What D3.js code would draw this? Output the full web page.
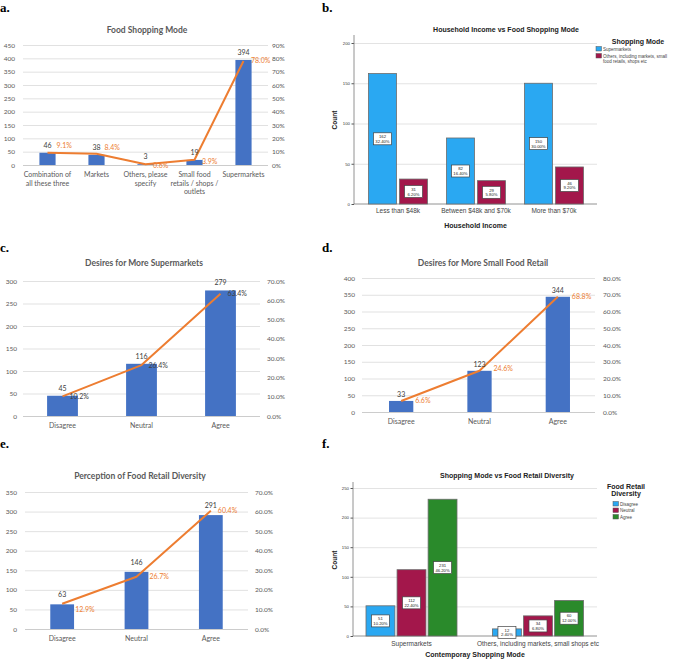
<!DOCTYPE html>
<html><head><meta charset="utf-8">
<script src="https://cdn.jsdelivr.net/npm/d3@7"></script>
<style>body{margin:0;background:#fff}svg{display:block}</style>
</head><body>
<svg id="chart" width="685" height="659"></svg>
<script>
// ---------- DATA ----------
// a. Food Shopping Mode
const aCategories = ["Combination of\nall these three", "Markets", "Others, please\nspecify", "Small food\nretails / shops /\noutlets", "Supermarkets"];
const aCounts = [46, 38, 3, 19, 394];
const aPercents = [9.1, 8.4, 0.6, 3.9, 78.0];
const aLeftTicks = [0, 50, 100, 150, 200, 250, 300, 350, 400, 450];
const aRightTicks = [0, 10, 20, 30, 40, 50, 60, 70, 80, 90];

// b. Household Income vs Food Shopping Mode
const bIncome = ["Less than $48k", "Between $48k and $70k", "More than $70k"];
const bModes = ["Supermarkets", "Others, including markets, small food retails, shops etc"];
const bSupermarkets = [162, 82, 150];
const bOthers = [31, 29, 46];
const bSupermarketsPct = ["32.40%", "16.40%", "30.00%"];
const bOthersPct = ["6.20%", "5.80%", "9.20%"];
const bTicks = [0, 50, 100, 150, 200];

// c. Desires for More Supermarkets
const agreeCategories = ["Disagree", "Neutral", "Agree"];
const cCounts = [45, 116, 279];
const cPercents = [10.2, 26.4, 63.4];
const cLeftTicks = [0, 50, 100, 150, 200, 250, 300];
const cRightTicks = [0, 10, 20, 30, 40, 50, 60, 70];

// d. Desires for More Small Food Retail
const dCounts = [33, 123, 344];
const dPercents = [6.6, 24.6, 68.8];
const dLeftTicks = [0, 50, 100, 150, 200, 250, 300, 350, 400];
const dRightTicks = [0, 10, 20, 30, 40, 50, 60, 70, 80];

// e. Perception of Food Retail Diversity
const eCounts = [63, 146, 291];
const ePercents = [12.9, 26.7, 60.4];
const eLeftTicks = [0, 50, 100, 150, 200, 250, 300, 350];
const eRightTicks = [0, 10, 20, 30, 40, 50, 60, 70];

// f. Shopping Mode vs Food Retail Diversity
const fModes = ["Supermarkets", "Others, including markets, small shops etc"];
const fDiversity = ["Disagree", "Neutral", "Agree"];
const fDisagree = [51, 12];
const fNeutral = [112, 34];
const fAgree = [231, 60];
const fDisagreePct = ["10.20%", "2.40%"];
const fNeutralPct = ["22.40%", "6.80%"];
const fAgreePct = ["46.20%", "12.00%"];
const fTicks = [0, 50, 100, 150, 200, 250];

// ---------- DRAWING ----------
const svg = d3.select("#chart");
const XL_FONT = "Lato, 'Open Sans', sans-serif";
const SP_FONT = "'Liberation Sans', Arial, sans-serif";
const BAR = "#4472c4", LINE = "#ed7d31", GRAY = "#595959";

// panel letters
[["a.", 0, 12], ["b.", 322, 12], ["c.", 0, 252], ["d.", 322, 252], ["e.", 0, 448], ["f.", 322, 448]].forEach(([t, x, y]) => {
  svg.append("text").attr("x", x).attr("y", y).text(t)
    .attr("font-family", "'Liberation Serif', 'Times New Roman', serif")
    .attr("font-weight", "bold").attr("font-size", 13).attr("fill", "#000");
});

function excelPanel(o) {
  const g = svg.append("g").attr("font-family", XL_FONT);
  const x = d3.scaleBand().domain(o.cats).range([o.x0, o.x1]);
  const yL = d3.scaleLinear().domain([0, o.lMax]).range([o.yb, o.yt]);
  const yR = d3.scaleLinear().domain([0, o.rMax]).range([o.yb, o.yt]);

  const la = g.append("g").attr("transform", `translate(${o.x0},0)`)
    .call(d3.axisLeft(yL).tickValues(o.lTicks).tickSize(-(o.gx1 - o.x0)).tickPadding(o.x0 - o.lx));
  la.select(".domain").remove();
  la.selectAll(".tick line").attr("stroke", d => d === 0 ? "#bfbfbf" : "#d9d9d9").attr("stroke-width", 0.8);
  la.selectAll(".tick text").attr("fill", GRAY).attr("font-size", 6.5).attr("font-family", XL_FONT);

  const ra = g.append("g").attr("transform", `translate(${o.gx1},0)`)
    .call(d3.axisRight(yR).tickValues(o.rTicks).tickSize(0).tickPadding(o.rx - o.gx1).tickFormat(o.rFmt));
  ra.select(".domain").remove();
  ra.selectAll(".tick text").attr("fill", GRAY).attr("font-size", 6.5).attr("font-family", XL_FONT);

  const bw = x.bandwidth() * o.barRatio;
  const cx = c => x(c) + x.bandwidth() / 2;
  g.selectAll(".bar").data(o.counts).join("rect")
    .attr("x", (d, i) => cx(o.cats[i]) - bw / 2).attr("y", d => yL(d))
    .attr("width", bw).attr("height", d => o.yb - yL(d)).attr("fill", BAR);

  const pts = o.pcts.map((p, i) => [cx(o.cats[i]), yR(p)]);
  g.append("path").attr("d", d3.line()(pts)).attr("fill", "none")
    .attr("stroke", LINE).attr("stroke-width", 2).attr("stroke-linejoin", "round");

  g.selectAll(".cnt").data(o.counts).join("text")
    .attr("x", (d, i) => cx(o.cats[i])).attr("y", d => yL(d) + o.countDy)
    .attr("text-anchor", "middle").attr("font-size", 7).attr("fill", "#404040").text(d => d);

  g.selectAll(".pct").data(o.pcts).join("text")
    .attr("x", (d, i) => pts[i][0] + o.pctDx[i]).attr("y", (d, i) => pts[i][1] + o.pctDy[i])
    .attr("dy", "0.35em").attr("font-size", 7).attr("fill", o.pctColor).text(d => d.toFixed(1) + "%");

  o.cats.forEach(c => {
    const t = g.append("text").attr("x", cx(c)).attr("y", o.catY).attr("text-anchor", "middle")
      .attr("font-size", 7).attr("fill", GRAY);
    c.split("\n").forEach((line, j) => t.append("tspan").attr("x", cx(c)).attr("dy", j === 0 ? 0 : 8.7).text(line));
  });

  g.append("text").attr("x", o.tx).attr("y", o.ty).attr("text-anchor", "middle")
    .attr("font-size", 8.5).attr("font-weight", "bold").attr("fill", GRAY).text(o.title);
}

function spssPanel(o) {
  const g = svg.append("g").attr("font-family", SP_FONT);
  const x = d3.scaleBand().domain(o.groups).range([o.bx0, o.bx1]);
  const inner = d3.scaleBand().domain(o.series).range([0, o.groupW]).paddingInner(o.innerPad);
  const y = d3.scaleLinear().domain([0, o.yMax]).range([o.yb, o.yt]);

  const gr = g.append("g").attr("transform", `translate(${o.ax},0)`)
    .call(d3.axisLeft(y).tickValues(o.ticks.filter(t => t > 0)).tickSize(-(o.gx1 - o.ax)).tickFormat(""));
  gr.select(".domain").remove();
  gr.selectAll(".tick line").attr("stroke", "#dcdcdc").attr("stroke-width", 0.8);

  const la = g.append("g").attr("transform", `translate(${o.ax},0)`)
    .call(d3.axisLeft(y).tickValues(o.ticks).tickSize(2.5).tickPadding(1.5));
  la.select(".domain").remove();
  la.selectAll(".tick line").attr("stroke", "#555");
  la.selectAll(".tick text").attr("font-size", 4.3).attr("fill", "#333").attr("font-family", SP_FONT);
  g.append("line").attr("x1", o.ax).attr("x2", o.ax).attr("y1", o.axTop).attr("y2", o.yb).attr("stroke", "#777").attr("stroke-width", 0.8);
  g.append("line").attr("x1", o.ax).attr("x2", o.gx1).attr("y1", o.yb).attr("y2", o.yb).attr("stroke", "#777").attr("stroke-width", 0.8);

  o.groups.forEach((grp, gi) => {
    const gx = x(grp) + x.bandwidth() / 2 - o.groupW / 2;
    o.series.forEach((s, si) => {
      const v = o.values[si][gi];
      const bx = gx + inner(s);
      g.append("rect").attr("x", bx).attr("y", y(v)).attr("width", inner.bandwidth()).attr("height", o.yb - y(v))
        .attr("fill", o.colors[si]).attr("stroke", "#6b6b6b").attr("stroke-width", 0.8);
      const my = (y(v) + o.yb) / 2, mx = bx + inner.bandwidth() / 2;
      g.append("rect").attr("x", mx - 9).attr("y", my - 6).attr("width", 18).attr("height", 12)
        .attr("fill", "#fff").attr("stroke", "#444").attr("stroke-width", 0.7);
      g.append("text").attr("x", mx).attr("y", my - 0.8).attr("text-anchor", "middle").attr("font-size", 4.2).attr("fill", "#222").text(v);
      g.append("text").attr("x", mx).attr("y", my + 4).attr("text-anchor", "middle").attr("font-size", 4.2).attr("fill", "#222").text(o.pcts[si][gi]);
    });
    g.append("text").attr("x", x(grp) + x.bandwidth() / 2).attr("y", o.catY).attr("text-anchor", "middle")
      .attr("font-size", 6.5).attr("fill", "#444").text(grp);
  });

  g.append("text").attr("x", (o.ax + o.gx1) / 2).attr("y", o.xTitleY).attr("text-anchor", "middle")
    .attr("font-size", 7).attr("font-weight", "bold").attr("fill", "#222").text(o.xTitle);
  g.append("text").attr("transform", `translate(${o.countX},${o.countY}) rotate(-90)`).attr("text-anchor", "middle")
    .attr("font-size", 6.5).attr("font-weight", "bold").attr("fill", "#222").text("Count");
  g.append("text").attr("x", o.tx).attr("y", o.ty).attr("text-anchor", "middle")
    .attr("font-size", 7).attr("font-weight", "bold").attr("fill", "#222").text(o.title);

  o.legendTitle.forEach((t, i) => g.append("text").attr("x", o.lgTx).attr("y", o.lgTy + i * 7).attr("text-anchor", "middle")
    .attr("font-size", 7).attr("font-weight", "bold").attr("fill", "#222").text(t));
  o.legendItems.forEach((lines, i) => {
    const yy = o.lgY0 + o.lgOff[i];
    g.append("rect").attr("x", o.lgX).attr("y", yy).attr("width", 5.5).attr("height", 4.5)
      .attr("fill", o.colors[i]).attr("stroke", "#555").attr("stroke-width", 0.5);
    lines.forEach((ln, j) => g.append("text").attr("x", o.lgX + 7).attr("y", yy + 4 + j * 5).attr("font-size", 4.5).attr("fill", "#444").text(ln));
  });
}

excelPanel({cats: aCategories, counts: aCounts, pcts: aPercents, title: "Food Shopping Mode", tx: 147, ty: 33,
  x0: 23, x1: 268, gx1: 268, yb: 165, yt: 45, lMax: 450, lTicks: aLeftTicks, rMax: 90, rTicks: aRightTicks,
  rFmt: d => d + "%", lx: 15, rx: 272, barRatio: 0.33, catY: 177, countDy: -5, pctColor: LINE,
  pctDx: [9, 8, 7.5, 7.5, 7.5], pctDy: [-7, -6, 1.5, 1.5, 0]});

excelPanel({cats: agreeCategories, counts: cCounts, pcts: cPercents, title: "Desires for More Supermarkets", tx: 144, ty: 266,
  x0: 23, x1: 260, gx1: 260, yb: 416, yt: 281, lMax: 300, lTicks: cLeftTicks, rMax: 70, rTicks: cRightTicks,
  rFmt: d => d.toFixed(1) + "%", lx: 17, rx: 267, barRatio: 0.39, catY: 428, countDy: -5, pctColor: "#404040",
  pctDx: [7, 7, 7], pctDy: [0, 0, 0]});

excelPanel({cats: agreeCategories, counts: dCounts, pcts: dPercents, title: "Desires for More Small Food Retail", tx: 483, ty: 266,
  x0: 362, x1: 597, gx1: 595, yb: 412, yt: 278, lMax: 400, lTicks: dLeftTicks, rMax: 80, rTicks: dRightTicks,
  rFmt: d => d.toFixed(1) + "%", lx: 355, rx: 603, barRatio: 0.31, catY: 424, countDy: -4, pctColor: LINE,
  pctDx: [14, 14, 14], pctDy: [0, -2, 0]});

excelPanel({cats: agreeCategories, counts: eCounts, pcts: ePercents, title: "Perception of Food Retail Diversity", tx: 140, ty: 479,
  x0: 25, x1: 248, gx1: 248, yb: 629, yt: 492, lMax: 350, lTicks: eLeftTicks, rMax: 70, rTicks: eRightTicks,
  rFmt: d => d.toFixed(1) + "%", lx: 17, rx: 255, barRatio: 0.32, catY: 641, countDy: -7, pctColor: LINE,
  pctDx: [13, 13, 7], pctDy: [6, 0, 0]});

spssPanel({groups: bIncome, series: bModes, values: [bSupermarkets, bOthers], pcts: [bSupermarketsPct, bOthersPct],
  colors: ["#2aa8f2", "#a3174b"], bx0: 359, bx1: 593, groupW: 59, innerPad: 0.1,
  yMax: 200, ticks: bTicks, yb: 204, yt: 43, ax: 354, axTop: 35, gx1: 597, catY: 213,
  xTitle: "Household Income", xTitleY: 228, countX: 337, countY: 120,
  title: "Household Income vs Food Shopping Mode", tx: 506, ty: 32,
  legendTitle: ["Shopping Mode"], lgTx: 638, lgTy: 44, lgX: 596, lgY0: 46.5, lgOff: [0, 7],
  legendItems: [["Supermarkets"], ["Others, including markets, small", "food retails, shops etc"]]});

spssPanel({groups: fModes, series: fDiversity, values: [fDisagree, fNeutral, fAgree], pcts: [fDisagreePct, fNeutralPct, fAgreePct],
  colors: ["#2aa8f2", "#a3174b", "#2a8a2b"], bx0: 348.25, bx1: 601.25, groupW: 91, innerPad: 0.07,
  yMax: 250, ticks: fTicks, yb: 636, yt: 488, ax: 353, axTop: 482, gx1: 597, catY: 645.5,
  xTitle: "Contemporay Shopping Mode", xTitleY: 657, countX: 337, countY: 560,
  title: "Shopping Mode vs Food Retail Diversity", tx: 507, ty: 478,
  legendTitle: ["Food Retail", "Diversity"], lgTx: 626, lgTy: 489, lgX: 613, lgY0: 501.5, lgOff: [0, 6.5, 13],
  legendItems: [["Disagree"], ["Neutral"], ["Agree"]]});
</script>
</body></html>
